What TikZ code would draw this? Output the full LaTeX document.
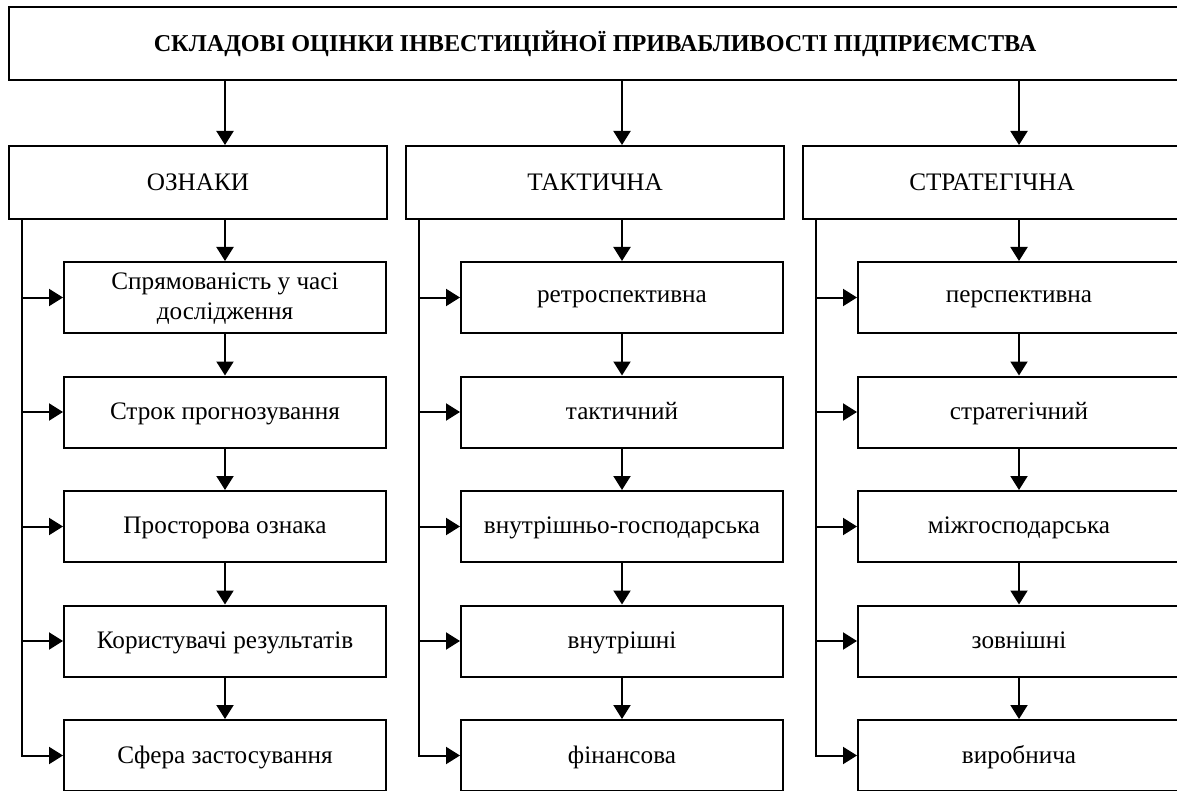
\documentclass[tikz,border=0pt]{standalone}
\usepackage{fontspec}
\setmainfont{Liberation Serif}
\usetikzlibrary{arrows.meta, positioning}

\begin{document}
\begin{tikzpicture}[x=0.5pt,y=-0.5pt,
box/.style={rectangle,draw=black,line width=1pt,align=center,inner sep=2pt},
head/.style={box,minimum width=586pt,minimum height=36.5pt,font=\bfseries\fontsize{12.1}{14}\selectfont},
group/.style={box,minimum width=189pt,minimum height=36.5pt,font=\fontsize{12.6}{14}\selectfont},
item/.style={box,minimum width=161pt,minimum height=35.5pt,text depth=0.25ex,font=\fontsize{12.6}{15}\selectfont},
link/.style={line width=1pt,-{Triangle[length=7pt,width=8.5pt]}},
spine/.style={line width=1pt}]

\useasboundingbox (0,0) rectangle (1177,791);
\clip (0,0) rectangle (1177,791);

\node[head] (head) at (595,43.5) {СКЛАДОВІ ОЦІНКИ ІНВЕСТИЦІЙНОЇ ПРИВАБЛИВОСТІ ПІДПРИЄМСТВА};

\node[group] (oz) at (198,182.5) {ОЗНАКИ};
\node[group] (tak) at (595,182.5) {ТАКТИЧНА};
\node[group] (str) at (992,182.5) {СТРАТЕГІЧНА};

% ознаки
\node[item] (o1) at (225,297.5) {Спрямованість у часі\\дослідження};
\node[item] (o2) at (225,412) {Строк прогнозування};
\node[item] (o3) at (225,526.5) {Просторова ознака};
\node[item] (o4) at (225,641) {Користувачі результатів};
\node[item] (o5) at (225,755.5) {Сфера застосування};

% тактична
\node[item] (t1) at (622,297.5) {ретроспективна};
\node[item] (t2) at (622,412) {тактичний};
\node[item] (t3) at (622,526.5) {внутрішньо-господарська};
\node[item] (t4) at (622,641) {внутрішні};
\node[item] (t5) at (622,755.5) {фінансова};

% стратегічна
\node[item] (s1) at (1019,297.5) {перспективна};
\node[item] (s2) at (1019,412) {стратегічний};
\node[item] (s3) at (1019,526.5) {міжгосподарська};
\node[item] (s4) at (1019,641) {зовнішні};
\node[item] (s5) at (1019,755.5) {виробнича};

\coordinate[right=7pt of oz.south west] (ozl);
\coordinate[right=7pt of tak.south west] (takl);
\coordinate[right=7pt of str.south west] (strl);

% connectors
\foreach \g/\c in {oz/o, tak/t, str/s} {
  \draw[link] (\c1 |- head.south) -- (\c1 |- \g.north);
  \draw[link] (\c1 |- \g.south) -- (\c1.north);
  \draw[link] (\c1.south) -- (\c2.north);
  \draw[link] (\c2.south) -- (\c3.north);
  \draw[link] (\c3.south) -- (\c4.north);
  \draw[link] (\c4.south) -- (\c5.north);
  \draw[link] (\g l) |- (\c5.west);
  \draw[link] (\g l |- \c1.west) -- (\c1.west);
  \draw[link] (\g l |- \c2.west) -- (\c2.west);
  \draw[link] (\g l |- \c3.west) -- (\c3.west);
  \draw[link] (\g l |- \c4.west) -- (\c4.west);
}

\end{tikzpicture}
\end{document}
